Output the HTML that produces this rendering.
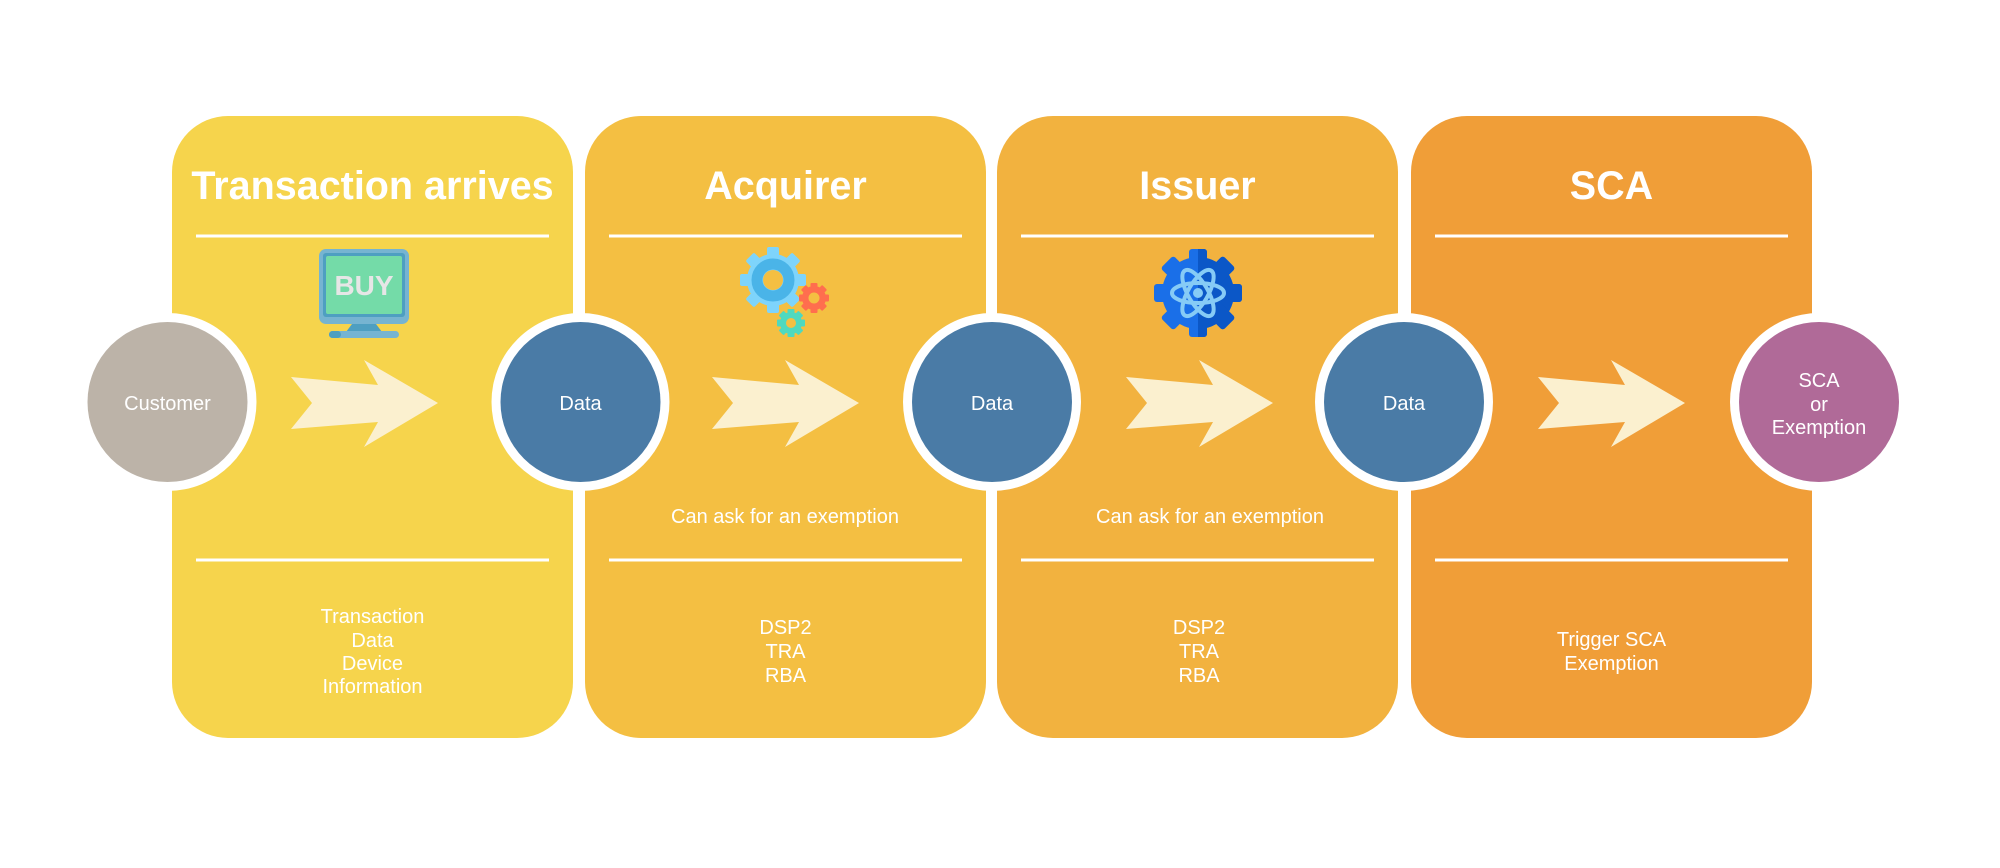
<!DOCTYPE html>
<html>
<head>
<meta charset="utf-8">
<style>
  html, body { margin:0; padding:0; background:#ffffff; }
  svg { display:block; }
  text { font-family: "Liberation Sans", Arial, sans-serif; fill:#ffffff; }
  .t { font-size:39.5px; font-weight:bold; text-anchor:middle; }
  .s { font-size:20px; text-anchor:middle; }
</style>
</head>
<body>
<svg width="2000" height="868" viewBox="0 0 2000 868" xmlns="http://www.w3.org/2000/svg">
  <rect x="0" y="0" width="2000" height="868" fill="#ffffff"/>

  <!-- Cards -->
  <rect x="172" y="116" width="401" height="622" rx="56" ry="56" fill="#F6D44C"/>
  <rect x="585" y="116" width="401" height="622" rx="56" ry="56" fill="#F4BF42"/>
  <rect x="997" y="116" width="401" height="622" rx="56" ry="56" fill="#F2B23F"/>
  <rect x="1411" y="116" width="401" height="622" rx="56" ry="56" fill="#F09E38"/>

  <!-- Titles -->
  <text class="t" x="372.5" y="199">Transaction arrives</text>
  <text class="t" x="785.5" y="199">Acquirer</text>
  <text class="t" x="1197.5" y="199">Issuer</text>
  <text class="t" x="1611.5" y="199">SCA</text>

  <!-- Divider lines -->
  <g stroke="#ffffff" stroke-width="3">
    <line x1="196" y1="236" x2="549" y2="236"/>
    <line x1="609" y1="236" x2="962" y2="236"/>
    <line x1="1021" y1="236" x2="1374" y2="236"/>
    <line x1="1435" y1="236" x2="1788" y2="236"/>
    <line x1="196" y1="560" x2="549" y2="560"/>
    <line x1="609" y1="560" x2="962" y2="560"/>
    <line x1="1021" y1="560" x2="1374" y2="560"/>
    <line x1="1435" y1="560" x2="1788" y2="560"/>
  </g>

  <!-- BUY monitor icon -->
  <g>
    <rect x="319" y="249" width="90" height="75" rx="7" fill="#76B4D1"/>
    <rect x="323" y="253" width="82" height="64" rx="3" fill="#4E9FC1"/>
    <rect x="326" y="256" width="76" height="58" rx="2" fill="#74DBA8"/>
    <text x="364" y="295" style="font-size:28px;font-weight:bold;fill:#E6E6E6;text-anchor:middle;">BUY</text>
    <polygon points="352,324 376,324 382,332 346,332" fill="#4E9FC1"/>
    <rect x="329" y="331" width="70" height="7" rx="3.5" fill="#76B4D1"/>
    <rect x="329" y="331" width="12" height="7" rx="3.5" fill="#4E9FC1"/>
  </g>

  <!-- Gears icon (Acquirer) -->
  <g transform="translate(773,280)">
    <g fill="#7ED4FB">
      <circle r="26"/>
      <rect x="-6" y="-33" width="12" height="66" rx="2"/>
      <rect x="-6" y="-33" width="12" height="66" rx="2" transform="rotate(45)"/>
      <rect x="-6" y="-33" width="12" height="66" rx="2" transform="rotate(90)"/>
      <rect x="-6" y="-33" width="12" height="66" rx="2" transform="rotate(135)"/>
    </g>
    <circle r="16" fill="none" stroke="#4AB4E8" stroke-width="11"/>
    <circle r="10" fill="#F4BF42"/>
  </g>
  <g transform="translate(814,298)">
    <g fill="#FF6E4E">
      <circle r="12"/>
      <rect x="-3.5" y="-15" width="7" height="30" rx="1"/>
      <rect x="-3.5" y="-15" width="7" height="30" rx="1" transform="rotate(45)"/>
      <rect x="-3.5" y="-15" width="7" height="30" rx="1" transform="rotate(90)"/>
      <rect x="-3.5" y="-15" width="7" height="30" rx="1" transform="rotate(135)"/>
    </g>
    <circle r="5.5" fill="#F4BF42"/>
  </g>
  <g transform="translate(791,323)">
    <g fill="#4FD9BF">
      <circle r="11"/>
      <rect x="-3.5" y="-14" width="7" height="28" rx="1"/>
      <rect x="-3.5" y="-14" width="7" height="28" rx="1" transform="rotate(45)"/>
      <rect x="-3.5" y="-14" width="7" height="28" rx="1" transform="rotate(90)"/>
      <rect x="-3.5" y="-14" width="7" height="28" rx="1" transform="rotate(135)"/>
    </g>
    <circle r="5" fill="#F4BF42"/>
  </g>

  <!-- Issuer gear/atom icon -->
  <defs>
    <clipPath id="rh"><rect x="0" y="-50" width="50" height="100"/></clipPath>
  </defs>
  <g transform="translate(1198,293)">
    <g fill="#1A6FE8">
      <circle r="36"/>
      <rect x="-9" y="-44" width="18" height="88" rx="3"/>
      <rect x="-9" y="-44" width="18" height="88" rx="3" transform="rotate(45)"/>
      <rect x="-9" y="-44" width="18" height="88" rx="3" transform="rotate(90)"/>
      <rect x="-9" y="-44" width="18" height="88" rx="3" transform="rotate(135)"/>
    </g>
    <g fill="#0B57C7" clip-path="url(#rh)">
      <circle r="36"/>
      <rect x="-9" y="-44" width="18" height="88" rx="3"/>
      <rect x="-9" y="-44" width="18" height="88" rx="3" transform="rotate(45)"/>
      <rect x="-9" y="-44" width="18" height="88" rx="3" transform="rotate(90)"/>
      <rect x="-9" y="-44" width="18" height="88" rx="3" transform="rotate(135)"/>
    </g>
    <g fill="none" stroke="#86CBF6" stroke-width="4">
      <ellipse rx="26" ry="10"/>
      <ellipse rx="26" ry="10" transform="rotate(60)"/>
      <ellipse rx="26" ry="10" transform="rotate(120)"/>
    </g>
    <circle r="5" fill="#86CBF6"/>
  </g>

  <!-- Arrows -->
  <g fill="#FBF0CF">
    <polygon points="291,377 312,403 291,429 378,422 364,447 438,403 364,360 378,385"/>
    <polygon points="712,377 733,403 712,429 799,422 785,447 859,403 785,360 799,385"/>
    <polygon points="1126,377 1147,403 1126,429 1213,422 1199,447 1273,403 1199,360 1213,385"/>
    <polygon points="1538,377 1559,403 1538,429 1625,422 1611,447 1685,403 1611,360 1625,385"/>
  </g>

  <!-- Circles -->
  <circle cx="167.5" cy="402" r="89" fill="#ffffff"/>
  <circle cx="167.5" cy="402" r="80" fill="#BCB3A8"/>
  <circle cx="580.5" cy="402" r="89" fill="#ffffff"/>
  <circle cx="580.5" cy="402" r="80" fill="#4A7BA6"/>
  <circle cx="992" cy="402" r="89" fill="#ffffff"/>
  <circle cx="992" cy="402" r="80" fill="#4A7BA6"/>
  <circle cx="1404" cy="402" r="89" fill="#ffffff"/>
  <circle cx="1404" cy="402" r="80" fill="#4A7BA6"/>
  <circle cx="1819" cy="402" r="89" fill="#ffffff"/>
  <circle cx="1819" cy="402" r="80" fill="#B06A98"/>

  <!-- Circle labels -->
  <text class="s" x="167.5" y="410">Customer</text>
  <text class="s" x="580.5" y="410">Data</text>
  <text class="s" x="992" y="410">Data</text>
  <text class="s" x="1404" y="410">Data</text>
  <text class="s" x="1819" y="387">SCA</text>
  <text class="s" x="1819" y="411">or</text>
  <text class="s" x="1819" y="434">Exemption</text>

  <!-- Middle notes -->
  <text class="s" x="785" y="523">Can ask for an exemption</text>
  <text class="s" x="1210" y="523">Can ask for an exemption</text>

  <!-- Bottom texts -->
  <text class="s" x="372.5" y="623">Transaction</text>
  <text class="s" x="372.5" y="647">Data</text>
  <text class="s" x="372.5" y="670">Device</text>
  <text class="s" x="372.5" y="693">Information</text>

  <text class="s" x="785.5" y="634">DSP2</text>
  <text class="s" x="785.5" y="658">TRA</text>
  <text class="s" x="785.5" y="682">RBA</text>

  <text class="s" x="1199" y="634">DSP2</text>
  <text class="s" x="1199" y="658">TRA</text>
  <text class="s" x="1199" y="682">RBA</text>

  <text class="s" x="1611.5" y="646">Trigger SCA</text>
  <text class="s" x="1611.5" y="670">Exemption</text>
</svg>
</body>
</html>
